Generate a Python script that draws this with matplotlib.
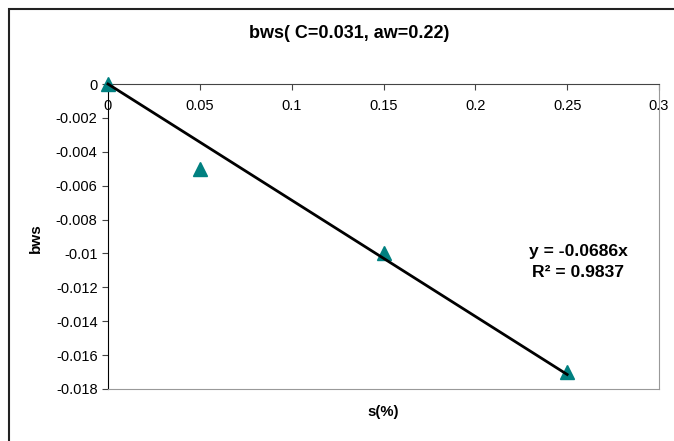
import matplotlib.pyplot as plt
import numpy as np
from matplotlib.patches import Rectangle

# data
s_pct = [0.0, 0.05, 0.15, 0.25]
bws = [0.0, -0.005, -0.010, -0.017]
x_ticks = [0, 0.05, 0.1, 0.15, 0.2, 0.25, 0.3]
y_ticks = [0, -0.002, -0.004, -0.006, -0.008, -0.01, -0.012, -0.014, -0.016, -0.018]

plt.rcParams["font.family"] = ["Liberation Sans", "DejaVu Sans"]

W, H = 674, 441
fig = plt.figure(figsize=(W / 100, H / 100), dpi=100)

# outer chart frame (only left/top visible in the crop)
fig.patches.append(Rectangle((8.5 / W, -0.1), 1.2, 1 - 8.5 / H + 0.1, transform=fig.transFigure,
                             fill=False, edgecolor="#222222", linewidth=1.5))

ax = fig.add_axes([108 / W, (H - 389) / H, 551 / W, 305 / H])

x = np.array(s_pct)
y = np.array(bws)

# linear trendline through the origin (Excel style R^2)
slope = np.sum(x * y) / np.sum(x * x)
y_fit = slope * x
r2 = 1 - np.sum((y - y_fit) ** 2) / np.sum((y - y.mean()) ** 2)

ax.plot(x, y, linestyle="none", marker="^", markersize=10.5, color="#008080",
        clip_on=False, zorder=3)
ax.plot([x.min(), x.max()], [slope * x.min(), slope * x.max()], color="black",
        linewidth=2, clip_on=False, zorder=4)

ax.set_xlim(0, 0.3)
ax.set_ylim(-0.018, 0)
ax.set_xticks(x_ticks)
ax.set_xticklabels([f"{t:g}" for t in x_ticks])
ax.set_yticks(y_ticks)
ax.set_yticklabels([f"{t:g}" for t in y_ticks])

# x axis crosses at y=0 (top), labels just under it
ax.xaxis.set_ticks_position("top")
ax.xaxis.set_label_position("bottom")
ax.tick_params(axis="x", direction="in", length=4, pad=-10.6, labelsize=10.5,
               color="#444444")
ax.tick_params(axis="y", direction="out", length=4, labelsize=10.5, color="#444444")
for lab in ax.get_xticklabels():
    lab.set_verticalalignment("top")

ax.spines["top"].set_color("#444444")
ax.spines["left"].set_color("black")
ax.spines["right"].set_color("#999999")
ax.spines["bottom"].set_color("#999999")

fig.text(349 / W, 1 - 33 / H, "bws( C=0.031, aw=0.22)", ha="center", va="center",
         fontsize=13, fontweight="bold")
fig.text(36 / W, 1 - 238 / H, "bws", ha="center", va="center", rotation=90,
         fontsize=11, fontweight="bold")
fig.text(383 / W, 1 - 412 / H, "s(%)", ha="center", va="center",
         fontsize=10.7, fontweight="bold")

fig.text(578 / W, 1 - 256 / H, f"y = {slope:.4f}x", ha="center", va="baseline",
         fontsize=12.6, fontweight="bold")
fig.text(578 / W, 1 - 277 / H, f"R\u00b2 = {r2:.4f}", ha="center", va="baseline",
         fontsize=12.6, fontweight="bold")

fig.savefig("out.png", dpi=100)
